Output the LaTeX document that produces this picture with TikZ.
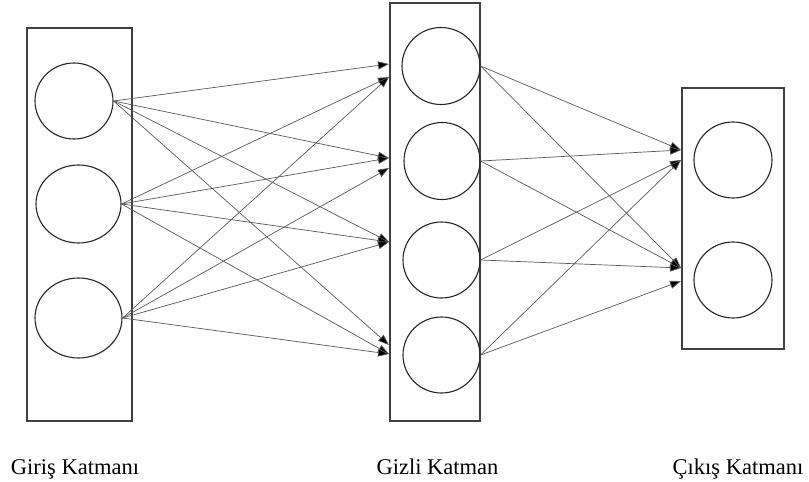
\documentclass[tikz,border=0pt]{standalone}
\usepackage{fontspec}
\setmainfont{Liberation Serif}
\usetikzlibrary{arrows.meta,shapes.geometric}
\begin{document}
\begin{tikzpicture}[x=1pt,y=-1pt,
  layerbox/.style={draw=black!75,line width=1.8pt},
  neuron/.style={ellipse,draw=black!85,line width=1.1pt,inner sep=0pt},
  link/.style={draw=black!65,line width=0.7pt,-{Triangle[length=11pt,width=8pt,fill=black]}},
  caption/.style={font=\fontsize{22.5}{26}\selectfont,anchor=base}]
\useasboundingbox (0,0) rectangle (809,482);
% layer frames
\node[layerbox,minimum width=105pt,minimum height=393pt,inner sep=0pt] (inbox) at (79.5,224.5) {};
\node[layerbox,minimum width=90pt,minimum height=418pt,inner sep=0pt] (hidbox) at (435,212) {};
\node[layerbox,minimum width=102pt,minimum height=261pt,inner sep=0pt] (outbox) at (733,218.5) {};
% input neurons
\node[neuron,minimum width=78pt,minimum height=76pt] (L1) at (74,101) {};
\node[neuron,minimum width=85pt,minimum height=78pt] (L2) at (78.5,204) {};
\node[neuron,minimum width=87pt,minimum height=80pt] (L3) at (78.5,318) {};
% hidden neurons
\node[neuron,minimum width=78pt,minimum height=77pt] (H1) at (441,66) {};
\node[neuron,minimum width=76pt,minimum height=77pt] (H2) at (442,161) {};
\node[neuron,minimum width=77pt,minimum height=76pt] (H3) at (441.5,260) {};
\node[neuron,minimum width=77pt,minimum height=76pt] (H4) at (441.5,355) {};
% output neurons
\node[neuron,minimum width=78pt,minimum height=76pt] (O1) at (733,160) {};
\node[neuron,minimum width=78pt,minimum height=76pt] (O2) at (733,280) {};
% arrow ends on the frame edges
\coordinate (h1a) at (389,64);
\coordinate (h1b) at (389,77);
\coordinate (h2a) at (389,158);
\coordinate (h2b) at (389,168);
\coordinate (h3a) at (389,242);
\coordinate (h4a) at (389,345);
\coordinate (h4b) at (389,354);
\coordinate (o1a) at (681,150);
\coordinate (o1b) at (681,160);
\coordinate (o2a) at (681,268);
\coordinate (o2b) at (681,281);
% input -> hidden
\draw[link] (L1.east) -- (h1a);
\draw[link] (L1.east) -- (h2a);
\draw[link] (L1.east) -- (h3a);
\draw[link] (L1.east) -- (h4a);
\draw[link] (L2.east) -- (h1b);
\draw[link] (L2.east) -- (h2a);
\draw[link] (L2.east) -- (h3a);
\draw[link] (L2.east) -- (h4b);
\draw[link] (L3.east) -- (h1b);
\draw[link] (L3.east) -- (h2b);
\draw[link] (L3.east) -- (h3a);
\draw[link] (L3.east) -- (h4b);
% hidden -> output
\draw[link] (H1.east) -- (o1a);
\draw[link] (H1.east) -- (o2a);
\draw[link] (H2.east) -- (o1a);
\draw[link] (H2.east) -- (o2a);
\draw[link] (H3.east) -- (o1b);
\draw[link] (H3.east) -- (o2a);
\draw[link] (H4.east) -- (o1b);
\draw[link] (H4.east) -- (o2b);
% captions
\node[caption] (capin) at (75,474) {Giriş Katmanı};
\node[caption] (caphid) at (437.5,474) {Gizli Katman};
\node[caption] (capout) at (738,474) {Çıkış Katmanı};
\end{tikzpicture}
\end{document}
